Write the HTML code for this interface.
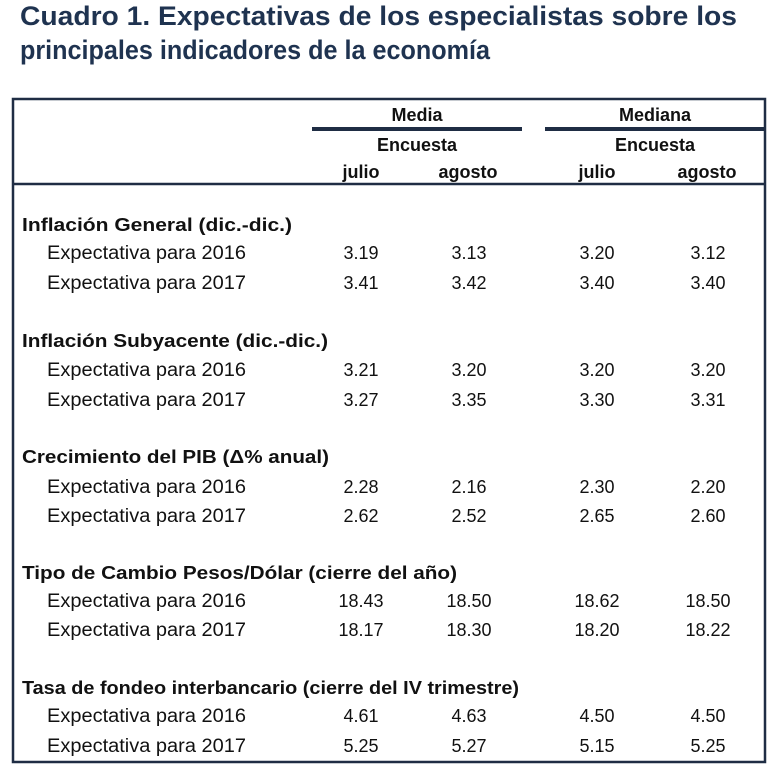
<!DOCTYPE html>
<html><head><meta charset="utf-8"><style>
html,body{margin:0;padding:0;background:#fff;}
svg{display:block}
text{font-family:"Liberation Sans",sans-serif;fill:#111;}
.t{font-weight:bold;fill:#1f3350;font-size:27px}
.b{font-weight:bold;font-size:18px}
.n{font-size:18px}
.e{font-size:19px}
</style></head><body>
<svg width="771" height="767" viewBox="0 0 771 767" xmlns="http://www.w3.org/2000/svg">
<text class="t" x="20" y="25" textLength="717" lengthAdjust="spacingAndGlyphs">Cuadro 1. Expectativas de los especialistas sobre los</text>
<text class="t" x="20" y="59" textLength="470" lengthAdjust="spacingAndGlyphs">principales indicadores de la economía</text>
<rect x="13" y="99" width="752" height="663" fill="none" stroke="#1f2d44" stroke-width="2.5"/>
<line x1="312" y1="129" x2="522" y2="129" stroke="#1f2d44" stroke-width="4"/>
<line x1="545" y1="129" x2="766" y2="129" stroke="#1f2d44" stroke-width="4"/>
<line x1="13" y1="184" x2="766" y2="184" stroke="#1f2d44" stroke-width="2.5"/>
<g text-anchor="middle">
<text class="b" x="417" y="121">Media</text>
<text class="b" x="655" y="121">Mediana</text>
<text class="b" x="417" y="151">Encuesta</text>
<text class="b" x="655" y="151">Encuesta</text>
<text class="b" x="361" y="178">julio</text>
<text class="b" x="468" y="178">agosto</text>
<text class="b" x="597" y="178">julio</text>
<text class="b" x="707" y="178">agosto</text>
</g>
<g>
<text class="b" x="22" y="231" textLength="270" lengthAdjust="spacingAndGlyphs">Inflación General (dic.-dic.)</text>
<text class="b" x="22" y="347" textLength="306" lengthAdjust="spacingAndGlyphs">Inflación Subyacente (dic.-dic.)</text>
<text class="b" x="22" y="463" textLength="307" lengthAdjust="spacingAndGlyphs">Crecimiento del PIB (Δ% anual)</text>
<text class="b" x="22" y="579" textLength="435" lengthAdjust="spacingAndGlyphs">Tipo de Cambio Pesos/Dólar (cierre del año)</text>
<text class="b" x="22" y="694" textLength="497" lengthAdjust="spacingAndGlyphs">Tasa de fondeo interbancario (cierre del IV trimestre)</text>
</g>
<g>
<text class="e" x="47" y="259" textLength="199" lengthAdjust="spacingAndGlyphs">Expectativa para 2016</text>
<text class="e" x="47" y="289" textLength="199" lengthAdjust="spacingAndGlyphs">Expectativa para 2017</text>
<text class="e" x="47" y="376" textLength="199" lengthAdjust="spacingAndGlyphs">Expectativa para 2016</text>
<text class="e" x="47" y="406" textLength="199" lengthAdjust="spacingAndGlyphs">Expectativa para 2017</text>
<text class="e" x="47" y="493" textLength="199" lengthAdjust="spacingAndGlyphs">Expectativa para 2016</text>
<text class="e" x="47" y="522" textLength="199" lengthAdjust="spacingAndGlyphs">Expectativa para 2017</text>
<text class="e" x="47" y="607" textLength="199" lengthAdjust="spacingAndGlyphs">Expectativa para 2016</text>
<text class="e" x="47" y="636" textLength="199" lengthAdjust="spacingAndGlyphs">Expectativa para 2017</text>
<text class="e" x="47" y="722" textLength="199" lengthAdjust="spacingAndGlyphs">Expectativa para 2016</text>
<text class="e" x="47" y="752" textLength="199" lengthAdjust="spacingAndGlyphs">Expectativa para 2017</text>
</g>
<g text-anchor="middle">
<text class="n" x="361" y="259">3.19</text><text class="n" x="469" y="259">3.13</text><text class="n" x="597" y="259">3.20</text><text class="n" x="708" y="259">3.12</text>
<text class="n" x="361" y="289">3.41</text><text class="n" x="469" y="289">3.42</text><text class="n" x="597" y="289">3.40</text><text class="n" x="708" y="289">3.40</text>
<text class="n" x="361" y="376">3.21</text><text class="n" x="469" y="376">3.20</text><text class="n" x="597" y="376">3.20</text><text class="n" x="708" y="376">3.20</text>
<text class="n" x="361" y="406">3.27</text><text class="n" x="469" y="406">3.35</text><text class="n" x="597" y="406">3.30</text><text class="n" x="708" y="406">3.31</text>
<text class="n" x="361" y="493">2.28</text><text class="n" x="469" y="493">2.16</text><text class="n" x="597" y="493">2.30</text><text class="n" x="708" y="493">2.20</text>
<text class="n" x="361" y="522">2.62</text><text class="n" x="469" y="522">2.52</text><text class="n" x="597" y="522">2.65</text><text class="n" x="708" y="522">2.60</text>
<text class="n" x="361" y="607">18.43</text><text class="n" x="469" y="607">18.50</text><text class="n" x="597" y="607">18.62</text><text class="n" x="708" y="607">18.50</text>
<text class="n" x="361" y="636">18.17</text><text class="n" x="469" y="636">18.30</text><text class="n" x="597" y="636">18.20</text><text class="n" x="708" y="636">18.22</text>
<text class="n" x="361" y="722">4.61</text><text class="n" x="469" y="722">4.63</text><text class="n" x="597" y="722">4.50</text><text class="n" x="708" y="722">4.50</text>
<text class="n" x="361" y="752">5.25</text><text class="n" x="469" y="752">5.27</text><text class="n" x="597" y="752">5.15</text><text class="n" x="708" y="752">5.25</text>
</g>
</svg>
</body></html>
